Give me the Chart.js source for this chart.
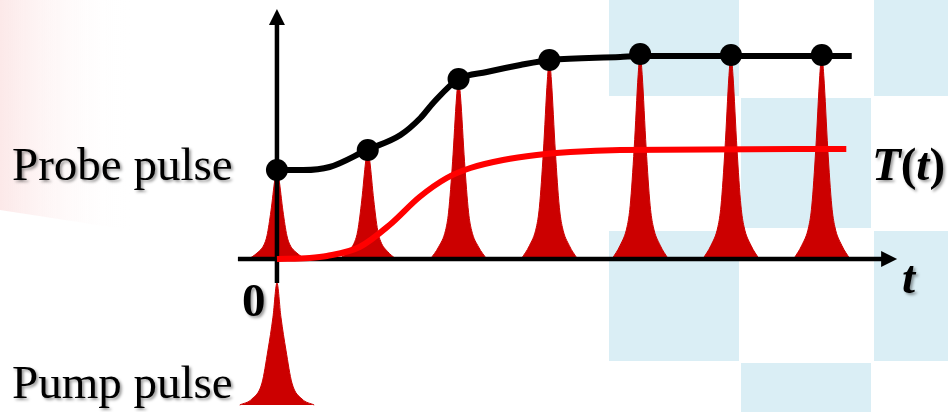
<!DOCTYPE html>
<html lang="en">
<head>
  <meta charset="UTF-8">
  <title>Pump-probe</title>
  <script src="https://cdn.jsdelivr.net/npm/chart.js"></script>
  <style>
    body { margin: 0; background: #fff; overflow: hidden; }
    #chart { display: block; }
  </style>
</head>
<body>
  <canvas id="chart" width="948" height="412"></canvas>

  <script>
    // probe pulses arrive at t = 0..6, peak height = T(t) sampled
    const pulseTimes = [0, 1, 2, 3, 4, 5, 6];
    const probeHeights = [0.445, 0.545, 0.90, 0.995, 1.025, 1.02, 1.02];

    // shape of one probe pulse (offset in t, fraction of peak)
    const pulseOffsets = [-0.31, -0.22, -0.143, -0.11, -0.066, -0.022, 0, 0.022, 0.066, 0.11, 0.143, 0.22, 0.31];
    const pulseShape = [0, 0.067, 0.16, 0.26, 0.54, 0.9, 1, 0.9, 0.54, 0.26, 0.16, 0.067, 0];

    // pump pulse below the axis
    const pumpTime = 0;
    const pumpBase = -0.73;
    const pumpPeak = -0.12;
    const pumpOffsets = [-0.41, -0.275, -0.165, -0.099, -0.044, 0, 0.044, 0.099, 0.165, 0.275, 0.41];
    const pumpShape = [0, 0.05, 0.18, 0.45, 0.72, 1, 0.72, 0.45, 0.18, 0.05, 0];

    // black curve (probe signal) and red curve T(t)
    const blackT = [0, 0.29, 0.58, 0.99, 1.36, 1.58, 1.72, 2.0, 2.31, 2.68, 3.01, 3.78, 4.01, 5.0, 6.0, 6.33];
    const blackV = [0.445, 0.445, 0.46, 0.545, 0.62, 0.705, 0.78, 0.90, 0.935, 0.97, 0.995, 1.01, 1.015, 1.015, 1.015, 1.015];
    const redT = [0, 0.36, 0.55, 0.91, 1.24, 1.57, 1.87, 2.13, 2.49, 2.86, 3.23, 3.78, 6.27];
    const redV = [0, 0.005, 0.015, 0.06, 0.17, 0.31, 0.405, 0.455, 0.495, 0.52, 0.535, 0.545, 0.55];

    const PULSE_RED = '#cc0000';

    const datasets = [];

    // dots on top
    datasets.push({
      label: 'samples',
      data: pulseTimes.map((t, i) => ({ x: t, y: probeHeights[i] })),
      pointRadius: 11,
      pointBackgroundColor: '#000',
      pointBorderWidth: 0,
      showLine: false,
      order: 0
    });
    datasets.push({
      label: 'probe',
      data: blackT.map((t, i) => ({ x: t, y: blackV[i] })),
      showLine: true,
      borderColor: '#000',
      borderWidth: 6,
      pointRadius: 0,
      cubicInterpolationMode: 'monotone',
      order: 1
    });
    datasets.push({
      label: 'T(t)',
      data: redT.map((t, i) => ({ x: t, y: redV[i] })),
      showLine: true,
      borderColor: '#ff0000',
      borderWidth: 6,
      pointRadius: 0,
      cubicInterpolationMode: 'monotone',
      order: 2
    });
    pulseTimes.forEach((t0, k) => {
      datasets.push({
        label: 'pulse' + k,
        data: pulseOffsets.map((o, i) => ({ x: t0 + o, y: probeHeights[k] * pulseShape[i] })),
        showLine: true,
        borderColor: PULSE_RED,
        backgroundColor: PULSE_RED,
        borderWidth: 1,
        pointRadius: 0,
        fill: 'origin',
        cubicInterpolationMode: 'monotone',
        order: 3
      });
    });
    datasets.push({
      label: 'pump',
      data: pumpOffsets.map((o, i) => ({ x: pumpTime + o, y: pumpBase + (pumpPeak - pumpBase) * pumpShape[i] })),
      showLine: true,
      borderColor: PULSE_RED,
      backgroundColor: PULSE_RED,
      borderWidth: 1,
      pointRadius: 0,
      fill: { value: pumpBase },
      cubicInterpolationMode: 'monotone',
      order: 3
    });

    // background, arrows and labels
    const decor = {
      id: 'decor',
      beforeDraw(chart) {
        const ctx = chart.ctx;
        ctx.save();
        // pink fade top left
        const g = ctx.createLinearGradient(0, 0, 130, 0);
        g.addColorStop(0, 'rgba(251,225,225,0.75)');
        g.addColorStop(1, 'rgba(255,255,255,0)');
        ctx.fillStyle = g;
        ctx.beginPath();
        ctx.moveTo(0, 0); ctx.lineTo(130, 0); ctx.lineTo(130, 230); ctx.lineTo(0, 210);
        ctx.closePath();
        ctx.fill();
        // light blue checker on the right
        ctx.fillStyle = '#daeef5';
        const cols = [608, 740, 873];
        const rows = [-35, 97, 230, 362];
        rows.forEach((ry, r) => {
          cols.forEach((cx, c) => {
            if ((r + c) % 2 === 0) ctx.fillRect(cx + 1, ry + 1, 130, 130);
          });
        });
        ctx.restore();
      },
      beforeDatasetDraw(chart, args) {
        if (chart.data.datasets[args.index].label !== 'T(t)') return;
        const ctx = chart.ctx;
        const x = chart.scales.x, y = chart.scales.y;
        const x0 = x.getPixelForValue(0), y0 = y.getPixelForValue(0);
        const xs = x.getPixelForValue(-0.43), xe = x.getPixelForValue(6.83);
        const ys = y.getPixelForValue(-0.12), ye = y.getPixelForValue(1.25);
        ctx.save();
        ctx.strokeStyle = '#000';
        ctx.fillStyle = '#000';
        ctx.lineWidth = 4.5;
        ctx.beginPath();
        ctx.moveTo(xs, y0); ctx.lineTo(xe - 14, y0);
        ctx.moveTo(x0, ys); ctx.lineTo(x0, ye + 14);
        ctx.stroke();
        ctx.beginPath();
        ctx.moveTo(xe, y0); ctx.lineTo(xe - 16, y0 - 8); ctx.lineTo(xe - 16, y0 + 8);
        ctx.closePath();
        ctx.fill();
        ctx.beginPath();
        ctx.moveTo(x0, ye); ctx.lineTo(x0 - 8, ye + 16); ctx.lineTo(x0 + 8, ye + 16);
        ctx.closePath();
        ctx.fill();
        ctx.restore();
      },
      afterDraw(chart) {
        const ctx = chart.ctx;
        const serif = '"Liberation Serif", "Times New Roman", serif';
        ctx.save();
        ctx.fillStyle = '#000';
        ctx.shadowColor = 'rgba(0,0,0,0.4)';
        ctx.shadowOffsetX = 2;
        ctx.shadowOffsetY = 2;
        ctx.shadowBlur = 3;
        ctx.textBaseline = 'alphabetic';
        ctx.textAlign = 'left';
        ctx.font = '47px ' + serif;
        ctx.fillText('Probe pulse', 12, 180);
        ctx.fillText('Pump pulse', 12, 398);
        ctx.font = 'bold 47px ' + serif;
        ctx.fillText('0', 242, 316);
        // T(t) with italic letters and upright brackets
        const parts = [['T', true], ['(', false], ['t', true], [')', false]];
        let px = 872;
        parts.forEach(([s, it]) => {
          ctx.font = (it ? 'italic ' : '') + 'bold 47px ' + serif;
          ctx.fillText(s, px, 180);
          px += ctx.measureText(s).width;
        });
        ctx.font = 'italic bold 47px ' + serif;
        ctx.fillText('t', 902, 293);
        ctx.restore();
      }
    };

    new Chart(document.getElementById('chart'), {
      type: 'scatter',
      data: { datasets: datasets },
      options: {
        responsive: false,
        animation: false,
        devicePixelRatio: 1,
        layout: { padding: 0, autoPadding: false },
        plugins: { legend: { display: false }, tooltip: { enabled: false } },
        scales: {
          x: { type: 'linear', min: -3.05, max: 7.39, display: false },
          y: { type: 'linear', min: -0.765, max: 1.295, display: false }
        }
      },
      plugins: [decor]
    });
  </script>
</body>
</html>
